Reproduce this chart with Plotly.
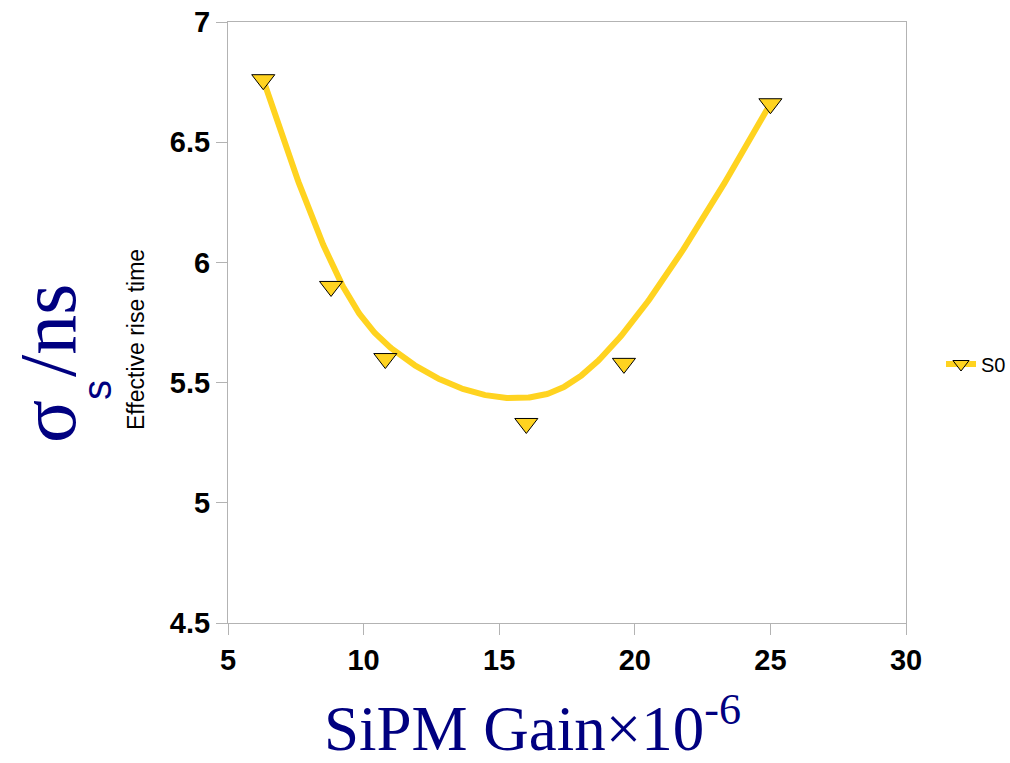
import numpy as np
import plotly.graph_objects as go

# Measured points: SiPM gain (x10^6) vs effective rise time sigma_s (ns)
gain = [6.3, 8.8, 10.8, 16.0, 19.6, 25.0]
sigma_ns = [6.76, 5.90, 5.60, 5.33, 5.58, 6.66]
series_name = "S0"

x_ticks = [5, 10, 15, 20, 25, 30]
y_ticks = [4.5, 5, 5.5, 6, 6.5, 7]

YELLOW = "#ffd320"
NAVY = "#000080"
GRAY = "#b3b3b3"


def bspline_curve(px, py, degree=3, samples=400):
    """Clamped uniform B-spline using the measured points as control points."""
    pts = np.column_stack([px, py]).astype(float)
    n = len(pts)
    inner = np.linspace(0, 1, n - degree + 1)
    knots = np.concatenate([[0] * degree, inner, [1] * degree])
    ts = np.linspace(0, 1, samples)

    def basis(i, k, t):
        if k == 0:
            if knots[i] <= t < knots[i + 1] or (t == 1 and knots[i] < knots[i + 1] == 1):
                return 1.0
            return 0.0
        a = 0.0
        d1 = knots[i + k] - knots[i]
        if d1 > 0:
            a = (t - knots[i]) / d1 * basis(i, k - 1, t)
        b = 0.0
        d2 = knots[i + k + 1] - knots[i + 1]
        if d2 > 0:
            b = (knots[i + k + 1] - t) / d2 * basis(i + 1, k - 1, t)
        return a + b

    out = np.array([sum(basis(i, degree, t) * pts[i] for i in range(n)) for t in ts])
    return out[:, 0], out[:, 1]


cx, cy = bspline_curve(gain, sigma_ns)

fig = go.Figure()

fig.add_trace(go.Scatter(
    x=cx, y=cy, mode="lines",
    line=dict(color=YELLOW, width=6),
    showlegend=False, hoverinfo="skip",
))
fig.add_trace(go.Scatter(
    x=gain, y=sigma_ns, mode="markers",
    marker=dict(symbol="triangle-down", size=20, color=YELLOW,
                line=dict(color="black", width=1)),
    showlegend=False,
))
# legend entry combining line and marker
fig.add_trace(go.Scatter(
    x=[None], y=[None], mode="lines+markers", name=series_name,
    line=dict(color=YELLOW, width=6),
    marker=dict(symbol="triangle-down", size=14, color=YELLOW,
                line=dict(color="black", width=1)),
))

L, R, T, B = 228, 104, 22, 140
W, H = 1010, 763
pw, ph = W - L - R, H - T - B


def px_x(p):
    return (p - L) / pw


def px_y(p):
    return (H - B - p) / ph


axis_common = dict(
    showgrid=False, zeroline=False,
    showline=True, linecolor=GRAY, linewidth=1, mirror=True,
    ticks="outside", ticklen=11, tickcolor=GRAY, tickwidth=1,
    tickfont=dict(family="Liberation Sans", size=29, color="black", weight="bold"),
)

fig.update_layout(
    width=W, height=H,
    margin=dict(l=L, r=R, t=T, b=B, autoexpand=False),
    paper_bgcolor="white", plot_bgcolor="white",
    xaxis=dict(range=[5, 30], tickvals=x_ticks, **axis_common),
    yaxis=dict(range=[4.5, 7], tickvals=y_ticks, **axis_common),
    legend=dict(x=px_x(941), y=px_y(364), xanchor="left", yanchor="middle",
                font=dict(family="Liberation Sans", size=20, color="black"),
                bgcolor="rgba(0,0,0,0)"),
    showlegend=True,
)

annotations = [
    # x-axis title
    dict(text="SiPM Gain×10<sup>-6</sup>", x=px_x(532), y=px_y(766), yanchor="bottom",
         font=dict(family="Liberation Serif", size=63, color=NAVY)),
    # y-axis title pieces
    dict(text="σ", x=px_x(48), y=px_y(421), textangle=-90,
         font=dict(family="Liberation Serif", size=80, color=NAVY)),
    dict(text="s", x=px_x(97), y=px_y(390), textangle=-90,
         font=dict(family="Liberation Sans", size=40, color=NAVY)),
    dict(text="/ns", x=px_x(48), y=px_y(330), textangle=-90,
         font=dict(family="Liberation Serif", size=80, color=NAVY)),
    dict(text="Effective rise time", x=px_x(136), y=px_y(340), textangle=-90,
         font=dict(family="Liberation Sans", size=23, color="black")),
]
for a in annotations:
    a.setdefault("yanchor", "middle")
    a.update(xref="paper", yref="paper", showarrow=False, xanchor="center")
fig.update_layout(annotations=annotations)

fig.write_html("out.html")
